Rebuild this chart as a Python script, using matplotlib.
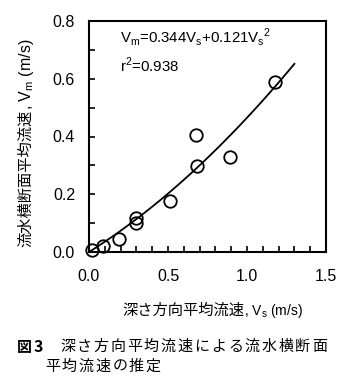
import numpy as np
import matplotlib.pyplot as plt

plt.rcParams['font.family'] = ['Liberation Sans', 'Noto Sans CJK JP', 'DejaVu Sans']
JP = ['Noto Sans CJK JP']

# 深さ方向平均流速 Vs と 流水横断面平均流速 Vm の観測値
vs = [0.02, 0.09, 0.19, 0.30, 0.30, 0.51, 0.68, 0.685, 0.89, 1.18]
vm = [0.008, 0.022, 0.045, 0.119, 0.100, 0.178, 0.404, 0.298, 0.330, 0.590]

# 回帰式の係数
a1, a2 = 0.344, 0.121
vs_max = 1.30

W, H = 350, 386
fig = plt.figure(figsize=(3.5, 3.86), dpi=100)
ax = fig.add_axes([89/W, 1-252/H, 237/W, 231/H])

x = np.linspace(0, vs_max, 100)
ax.plot(x, a1*x + a2*x**2, color='black', lw=1.3)
ax.plot(vs, vm, 'o', mfc='none', mec='black', ms=9, mew=1.3, clip_on=False)

ax.set_xlim(0, 1.5)
ax.set_ylim(0, 0.8)
ax.set_xticks([0.0, 0.5, 1.0, 1.5])
ax.set_yticks([0.0, 0.2, 0.4, 0.6, 0.8])
ax.set_xticklabels(['0.0', '0.5', '1.0', '1.5'])
ax.set_yticklabels(['0.0', '0.2', '0.4', '0.6', '0.8'])
ax.set_xticks(np.arange(0, 1.51, 0.1), minor=True)
ax.set_yticks(np.arange(0, 0.81, 0.1), minor=True)
ax.tick_params(which='both', direction='in', top=False, right=False, labelsize=11.5,
               length=4, width=1.2)
ax.tick_params(axis='y', which='major', pad=10)
ax.tick_params(axis='x', which='major', pad=12)
for s in ax.spines.values():
    s.set_linewidth(1.5)

ax.text(0.196, 0.745, r'V$_\mathregular{m}$=0.344V$_\mathregular{s}$+0.121V$_\mathregular{s}$$^\mathregular{2}$',
        fontsize=10.8, va='center')
ax.text(0.196, 0.647, r'r$^\mathregular{2}$=0.938', fontsize=10.8, va='center')

# 軸ラベル（日本語部分と記号部分を分けて描く）
xl = fig.text(122/W, 1-310/H, '深さ方向平均流速', fontsize=11, ha='left', va='center',
              family=JP)
ax.annotate(r', V$_\mathregular{s}$ (m/s)', xy=(1, 0.45), xycoords=xl, fontsize=10,
            ha='left', va='center')
yl = fig.text(26/W, 1-247/H, '流水横断面平均流速', fontsize=11, ha='center', va='bottom',
              rotation=90, family=JP)
ax.annotate(r', V$_\mathregular{m}$ (m/s)', xy=(0.55, 1), xycoords=yl, fontsize=11.5,
            ha='center', va='bottom', rotation=90)

# 図の表題
def put_chars(s, x0, y0, step=16.8, size=10.8, **kw):
    for i, c in enumerate(s):
        fig.text((x0 + i*step)/W, 1-y0/H, c, fontsize=size, ha='left', va='center',
                 family=JP, **kw)

put_chars('図', 17, 347, weight='bold')
fig.text(34/W, 1-347/H, '3', fontsize=11.5, ha='left', va='center', family=JP,
         weight='bold')
put_chars('深さ方向平均流速による流水横断面', 60, 347)
put_chars('平均流速の推定', 45, 367)

fig.savefig('out.png', dpi=100)
